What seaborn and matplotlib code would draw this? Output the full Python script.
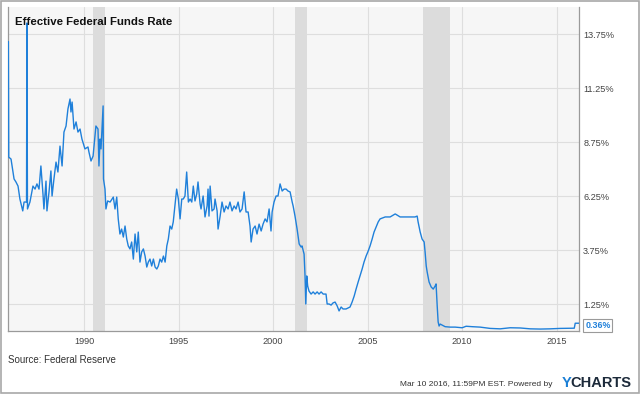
import numpy as np
import pandas as pd
import matplotlib
matplotlib.use("Agg")
import matplotlib.pyplot as plt
import seaborn as sns

# Effective federal funds rate (year, percent)
years = [
    1986.00, 1986.02, 1986.14, 1986.30, 1986.40, 1986.51, 1986.61, 1986.76, 1986.83, 1986.96,
    1986.98, 1987.01, 1987.14, 1987.30, 1987.41, 1987.51, 1987.62, 1987.72, 1987.83, 1987.88,
    1987.99, 1988.04, 1988.15, 1988.25, 1988.31, 1988.41, 1988.52, 1988.62, 1988.73, 1988.84,
    1988.94, 1989.05, 1989.15, 1989.26, 1989.31, 1989.37, 1989.47, 1989.58, 1989.68, 1989.79,
    1989.89, 1990.05, 1990.21, 1990.26, 1990.37, 1990.48, 1990.63, 1990.74, 1990.79, 1990.85,
    1990.90, 1991.01, 1991.03, 1991.11, 1991.16, 1991.25, 1991.38, 1991.55, 1991.64, 1991.73,
    1991.81, 1991.90, 1991.99, 1992.08, 1992.17, 1992.26, 1992.34, 1992.43, 1992.52, 1992.61,
    1992.70, 1992.79, 1992.87, 1992.96, 1993.05, 1993.14, 1993.23, 1993.32, 1993.40, 1993.49,
    1993.58, 1993.67, 1993.76, 1993.85, 1993.93, 1994.02, 1994.11, 1994.20, 1994.29, 1994.38,
    1994.46, 1994.55, 1994.64, 1994.72, 1994.81, 1994.90, 1994.99, 1995.08, 1995.17, 1995.25,
    1995.34, 1995.43, 1995.52, 1995.61, 1995.70, 1995.78, 1995.87, 1995.96, 1996.03, 1996.14,
    1996.19, 1996.30, 1996.40, 1996.51, 1996.56, 1996.61, 1996.67, 1996.77, 1996.88, 1996.93,
    1997.04, 1997.09, 1997.20, 1997.30, 1997.41, 1997.51, 1997.62, 1997.72, 1997.83, 1997.94,
    1998.04, 1998.15, 1998.25, 1998.36, 1998.47, 1998.57, 1998.68, 1998.78, 1998.84, 1998.94,
    1999.05, 1999.15, 1999.26, 1999.37, 1999.47, 1999.58, 1999.68, 1999.79, 1999.89, 1999.95,
    2000.05, 2000.16, 2000.26, 2000.37, 2000.48, 2000.58, 2000.69, 2000.79, 2000.90, 2001.01,
    2001.06, 2001.16, 2001.27, 2001.38, 2001.48, 2001.53, 2001.64, 2001.69, 2001.73, 2001.78,
    2001.83, 2001.90, 2002.01, 2002.12, 2002.22, 2002.33, 2002.43, 2002.54, 2002.65, 2002.80,
    2002.86, 2002.96, 2003.07, 2003.17, 2003.28, 2003.39, 2003.49, 2003.60, 2003.70, 2003.86,
    2004.07, 2004.18, 2004.29, 2004.39, 2004.50, 2004.60, 2004.71, 2004.81, 2004.92, 2005.03,
    2005.13, 2005.24, 2005.34, 2005.45, 2005.56, 2005.66, 2005.93, 2006.19, 2006.46, 2006.72,
    2006.98, 2007.25, 2007.51, 2007.62, 2007.67, 2007.78, 2007.88, 2007.99, 2008.04, 2008.10,
    2008.15, 2008.25, 2008.36, 2008.47, 2008.57, 2008.62, 2008.68, 2008.73, 2008.78, 2008.84,
    2009.10, 2009.37, 2009.63, 2010.00, 2010.21, 2010.53, 2010.95, 2011.48, 2012.01, 2012.54,
    2013.07, 2013.60, 2014.13, 2014.66, 2015.19, 2015.82, 2015.93, 2015.98, 2016.18,
]
rates = [
    13.40, 8.05, 7.96, 7.04, 6.90, 6.71, 6.11, 5.56, 5.97, 5.97,
    14.26, 5.65, 5.97, 6.71, 6.57, 6.81, 6.57, 7.64, 6.34, 5.65,
    6.94, 5.56, 6.44, 7.41, 6.25, 7.04, 7.82, 7.36, 8.56, 7.64,
    9.21, 9.49, 10.28, 10.74, 10.14, 10.60, 9.35, 9.68, 9.21, 9.35,
    8.89, 8.43, 8.52, 8.29, 7.87, 8.10, 9.49, 9.35, 7.64, 8.89,
    8.43, 10.42, 7.04, 6.57, 5.65, 6.02, 5.97, 6.20, 5.65, 6.20,
    5.19, 4.49, 4.72, 4.35, 4.86, 4.26, 3.94, 3.80, 4.12, 3.33,
    4.49, 3.66, 4.58, 3.19, 3.66, 3.80, 3.47, 2.96, 3.19, 3.33,
    3.01, 3.33, 2.96, 2.87, 3.01, 3.33, 3.19, 3.47, 3.19, 3.94,
    4.26, 4.86, 4.72, 5.05, 5.79, 6.57, 6.11, 5.19, 6.11, 6.11,
    6.25, 7.36, 5.97, 6.11, 5.97, 6.71, 6.02, 6.34, 6.90, 5.88,
    5.65, 6.25, 5.28, 5.79, 6.57, 5.32, 6.71, 5.56, 5.65, 6.11,
    5.56, 4.72, 5.32, 5.97, 5.51, 5.79, 5.65, 5.97, 5.56, 5.79,
    5.65, 5.97, 5.51, 5.65, 6.44, 5.51, 5.51, 4.86, 4.12, 4.72,
    4.86, 4.49, 4.95, 4.63, 4.95, 5.19, 5.05, 5.65, 4.63, 5.51,
    5.97, 6.25, 6.25, 6.81, 6.48, 6.57, 6.57, 6.48, 6.44, 5.97,
    5.79, 5.32, 4.72, 4.03, 3.89, 3.94, 3.56, 2.55, 1.25, 2.55,
    2.08, 1.85, 1.71, 1.81, 1.71, 1.81, 1.71, 1.81, 1.71, 1.71,
    1.25, 1.25, 1.20, 1.30, 1.34, 1.16, 0.93, 1.11, 1.02, 1.02,
    1.11, 1.34, 1.62, 1.94, 2.27, 2.55, 2.87, 3.19, 3.47, 3.70,
    3.94, 4.26, 4.58, 4.81, 5.05, 5.19, 5.28, 5.28, 5.42, 5.28,
    5.28, 5.28, 5.28, 5.32, 5.05, 4.58, 4.26, 4.12, 3.66, 3.01,
    2.73, 2.27, 2.04, 1.94, 2.08, 2.18, 1.16, 0.42, 0.23, 0.32,
    0.20, 0.18, 0.18, 0.15, 0.22, 0.20, 0.18, 0.12, 0.10, 0.15,
    0.14, 0.10, 0.09, 0.10, 0.12, 0.13, 0.13, 0.36, 0.36,
]

# NBER recessions (start, end)
recessions = [(1990.46, 1991.13), (2001.16, 2001.78), (2007.92, 2009.37)]

ytick_vals = [1.25, 3.75, 6.25, 8.75, 11.25, 13.75]
xtick_vals = [1990, 1995, 2000, 2005, 2010, 2015]

df = pd.DataFrame({"year": years, "rate": rates})

sns.set_style("white")
plt.rcParams["font.family"] = ["Liberation Sans", "DejaVu Sans"]

line_color = "#1f80da"

fig = plt.figure(figsize=(6.4, 3.94), dpi=100)
ax = fig.add_axes([8 / 640, 63 / 394, 571 / 640, 324 / 394])
ax.set_facecolor("#f6f6f6")

for start, end in recessions:
    ax.axvspan(start, end, color="#dcdcdc", lw=0, zorder=1)

sns.lineplot(data=df, x="year", y="rate", ax=ax, color=line_color,
             linewidth=1.0, estimator=None, sort=False, zorder=3)

ax.set_xlim(1985.98, 2016.18)
ax.set_ylim(0, 15)
ax.set_xticks(xtick_vals)
ax.set_xticklabels([str(v) for v in xtick_vals])
ax.set_yticks(ytick_vals)
ax.set_yticklabels([f"{v:.2f}%" for v in ytick_vals])
ax.yaxis.tick_right()
ax.tick_params(axis="both", length=0, labelsize=6.6, colors="#444444")
ax.tick_params(axis="x", pad=4)
ax.tick_params(axis="y", pad=3)
ax.grid(True, color="#dedede", linewidth=0.8, zorder=0)
ax.set_axisbelow(True)
ax.set_xlabel("")
ax.set_ylabel("")

for side in ["left", "bottom", "right"]:
    ax.spines[side].set_color("#9a9a9a")
    ax.spines[side].set_linewidth(0.9)
ax.spines["top"].set_visible(False)

ax.text(0.013, 0.968, "Effective Federal Funds Rate", transform=ax.transAxes,
        fontsize=8.2, fontweight="bold", color="#111111", va="top", ha="left")

# last value flag
ax.annotate(f"{rates[-1]:.2f}%", xy=(1.0, rates[-1]), xycoords=("axes fraction", "data"),
            xytext=(4.5, -1.5), textcoords="offset points", fontsize=6.4, fontweight="bold",
            color=line_color, va="center", ha="left",
            bbox=dict(boxstyle="square,pad=0.2", fc="white", ec="#9a9a9a", lw=0.8),
            annotation_clip=False)

fig.text(8 / 640, 1 - 360 / 394, "Source: Federal Reserve", fontsize=7,
         color="#333333", va="center", ha="left")
fig.text(553 / 640, 1 - 386 / 394, "Mar 10 2016, 11:59PM EST. Powered by", fontsize=6.0,
         color="#333333", va="baseline", ha="right")
fig.text(571 / 640, 1 - 387 / 394, "Y", fontsize=10.5, fontweight="bold",
         color="#1a7fd6", va="baseline", ha="right")
fig.text(631 / 640, 1 - 387 / 394, "CHARTS", fontsize=10.5, fontweight="bold",
         color="#1c2a3a", va="baseline", ha="right")

fig.patches.append(plt.Rectangle((0.001, 0.002), 0.997, 0.996, transform=fig.transFigure,
                                 fill=False, edgecolor="#a8a8a8", linewidth=1.2))

fig.savefig("out.png", dpi=100)
